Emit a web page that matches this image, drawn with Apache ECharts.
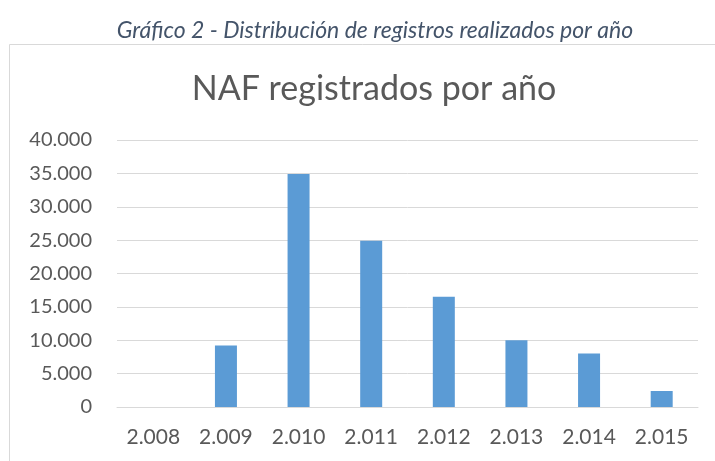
<!DOCTYPE html>
<html>
<head>
<meta charset="utf-8">
<script src="https://cdn.jsdelivr.net/npm/echarts@6/dist/echarts.min.js"></script>
<style>
html,body{margin:0;padding:0;background:#fff;}
#c{width:715px;height:461px;}
</style>
</head>
<body>
<div id="c"></div>
<script>
var categories = ['2.008','2.009','2.010','2.011','2.012','2.013','2.014','2.015'];
var values = [0, 9200, 34900, 24900, 16500, 10000, 8000, 2400];
var caption = 'Gráfico 2 - Distribución de registros realizados por año';
var chartTitle = 'NAF registrados por año';

var chart = echarts.init(document.getElementById('c'), null, {renderer:'canvas'});
function fmt(v){ return String(v).replace(/\B(?=(\d{3})+(?!\d))/g, '.'); }
chart.setOption({
  animation:false,
  backgroundColor:'#fff',
  title:[
    {text:caption, left:370, textAlign:'center', top:14,
     textStyle:{fontFamily:'Lato', fontStyle:'italic', fontWeight:'normal', fontSize:23, color:'#44546A'}},
    {text:chartTitle, left:369, textAlign:'center', top:67,
     textStyle:{fontFamily:'Lato', fontWeight:'normal', fontSize:34, color:'#595959'}}
  ],
  graphic:[{type:'rect', shape:{x:9.5,y:44.5,width:710,height:430}, style:{fill:'none', stroke:'#D9D9D9', lineWidth:1}}],
  grid:{left:117, right:17, top:140, bottom:54, containLabel:false},
  xAxis:{type:'category', data:categories,
    axisLine:{show:true, lineStyle:{color:'#D9D9D9', width:1}},
    axisTick:{show:false},
    axisLabel:{color:'#595959', fontFamily:'Lato', fontSize:21, margin:20}},
  yAxis:{type:'value', min:0, max:40000, interval:5000,
    axisLine:{show:false}, axisTick:{show:false},
    splitLine:{lineStyle:{color:'#D9D9D9', width:1}},
    axisLabel:{color:'#595959', fontFamily:'Lato', fontSize:20, margin:25, formatter:fmt}},
  series:[{type:'bar', data:values, barWidth:22, itemStyle:{color:'#5B9BD5'}}]
});
</script>
</body>
</html>
